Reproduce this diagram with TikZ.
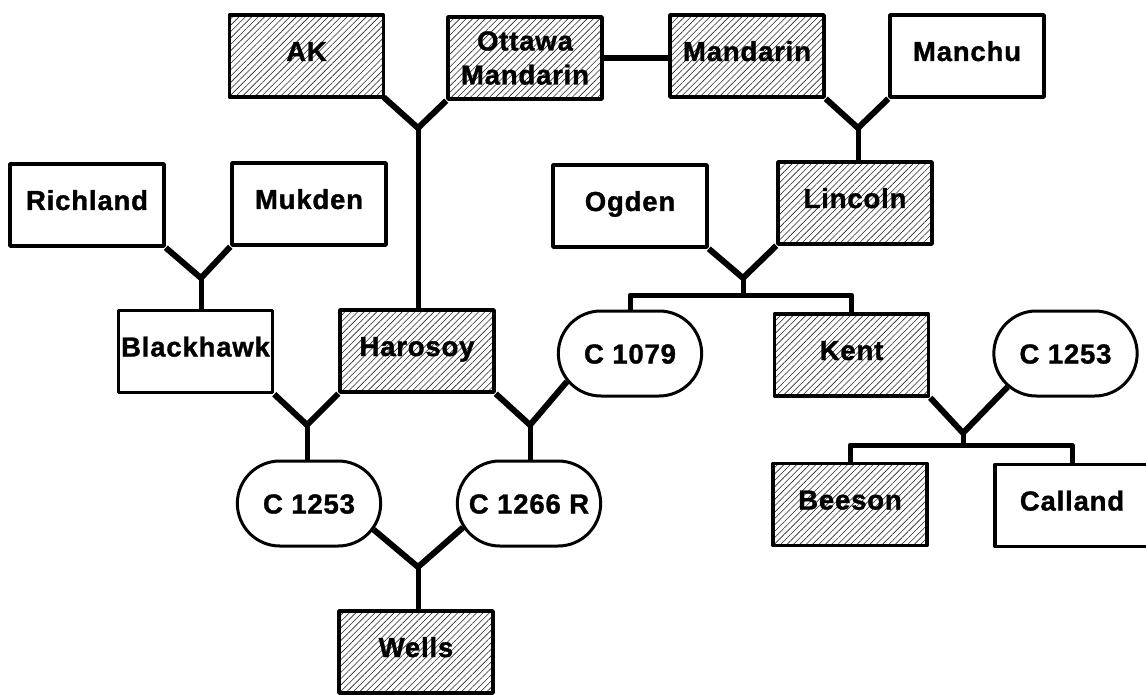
\documentclass[tikz,border=0pt]{standalone}
\usepackage{fontspec}
\newfontfamily\strainfont{Liberation Sans}[LetterSpace=3, BoldFeatures={FakeBold=1.2}]
\usetikzlibrary{shapes.misc,patterns.meta}

\begin{document}
\begin{tikzpicture}[x=1pt, y=-1pt, line join=round, line cap=round,
	font=\strainfont\bfseries\fontsize{27.5}{34}\selectfont,
	frame/.style={draw, line width=3.5pt, minimum width=154pt, minimum height=82pt, inner sep=0pt},
	box/.style={frame, text height=20pt, text depth=10pt},
	shade/.style={pattern={Lines[angle=45, distance=4.5pt, line width=0.6pt]}, pattern color=black!85},
	pill/.style={draw, rounded rectangle, line width=3pt, minimum width=150pt, minimum height=85pt, text height=20pt, text depth=0pt},
	link/.style={line width=6pt, line join=miter, line cap=butt},
	stem/.style={line width=5pt, line cap=butt}]
	\useasboundingbox (0,0) rectangle (1146,695);
	\path 
	(418,128) coordinate (j1)
	(858,128) coordinate (j2)
	(201,278) coordinate (j3)
	(743,278) coordinate (j4)
	(307,425) coordinate (j5)
	(530,425) coordinate (j6)
	(418,567) coordinate (j7)
	(963,433) coordinate (j8)
	;
	\node[box, shade] (AK) at (306.5,56) {AK};
	\node[frame, shade, align=center] (Ottawa) at (525,58) {Ottawa\\Mandarin};
	\node[box, shade] (Mandarin) at (747,56) {Mandarin};
	\node[box] (Manchu) at (967,56) {Manchu};
	\node[box] (Richland) at (87,205) {Richland};
	\node[box] (Mukden) at (309,204) {Mukden};
	\node[box] (Ogden) at (630,206) {Ogden};
	\node[box, shade] (Lincoln) at (855,203) {Lincoln};
	\node[box] (Blackhawk) at (195.5,351.5) {Blackhawk};
	\node[box, shade] (Harosoy) at (417,351) {Harosoy};
	\node[pill] (C1079) at (630,353.5) {C 1079};
	\node[box, shade] (Kent) at (851.5,355) {Kent};
	\node[pill] (C1253r) at (1065.5,353.5) {C 1253};
	\node[pill] (C1253l) at (309,503.5) {C 1253};
	\node[pill] (C1266) at (529,503.5) {C 1266 R};
	\node[box, shade] (Beeson) at (850,504.5) {Beeson};
	\node[box] (Calland) at (1072,505.5) {Calland};
	\node[box, shade] (Wells) at (416,652) {Wells};
	
	\draw[link] (AK.south east) -- (j1) -- (Ottawa.south west);
	\draw[stem] (j1) -- (j1 |- Harosoy.north);
	\draw[link] (Ottawa.east) -- (Ottawa.east -| Mandarin.west);
	\draw[link] (Mandarin.south east) -- (j2) -- (Manchu.south west);
	\draw[stem] (j2) -- (j2 |- Lincoln.north);
	\draw[link] (Richland.south east) -- (j3) -- (Mukden.south west);
	\draw[stem] (j3) -- (j3 |- Blackhawk.north);
	\draw[link] (Ogden.south east) -- (j4) -- (Lincoln.south west);
	\draw[stem] (j4) -- ++(0,17) coordinate (b4);
	\draw[stem] (C1079.north) |- (b4) -| (Kent.north);
	\draw[link] (Blackhawk.south east) -- (j5) -- (Harosoy.south west);
	\draw[stem] (j5) -- (j5 |- C1253l.north);
	\draw[link] (Harosoy.south east) -- (j6) -- (C1079.204);
	\draw[stem] (j6) -- (j6 |- C1266.north);
	\draw[link] (C1253l.338) -- (j7) -- (C1266.200);
	\draw[stem] (j7) -- (j7 |- Wells.north);
	\draw[link] (Kent.south east) -- (j8) -- (C1253r.210);
	\draw[stem] (j8) -- ++(0,12) coordinate (b8);
	\draw[stem] (Beeson.north) |- (b8) -| (Calland.north);
\end{tikzpicture}
\end{document}
